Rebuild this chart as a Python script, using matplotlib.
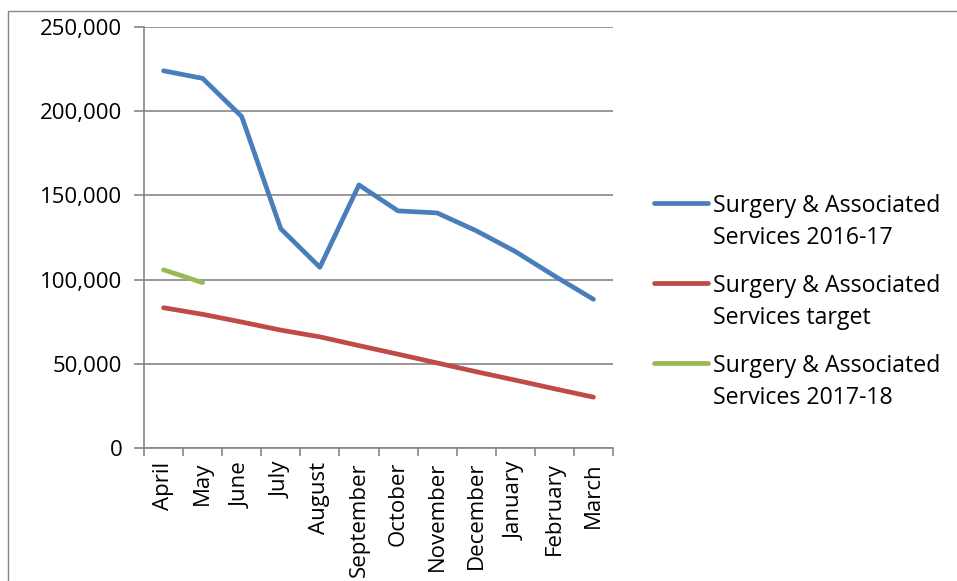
import matplotlib
matplotlib.use("Agg")
import matplotlib.pyplot as plt
from matplotlib.ticker import FuncFormatter, FixedLocator
from matplotlib.patches import Rectangle
from matplotlib.lines import Line2D

months = ["April", "May", "June", "July", "August", "September", "October",
          "November", "December", "January", "February", "March"]
series_2016_17 = [224000, 219500, 196800, 130200, 107300, 156200, 140800,
                  139600, 129000, 116700, 102200, 88300]
series_target = [83300, 79400, 74800, 70000, 66000, 60800, 55700,
                 50500, 45300, 40300, 35200, 30200]
series_2017_18 = [105800, 98200]
labels = ["Surgery & Associated\nServices 2016-17",
          "Surgery & Associated\nServices target",
          "Surgery & Associated\nServices 2017-18"]
colors = ["#4a7ebb", "#be4b48", "#98b954"]

plt.rcParams['font.family'] = ['Open Sans', 'DejaVu Sans']

W, H = 957, 581
fig = plt.figure(figsize=(W / 100, H / 100), dpi=100)
fig.patch.set_facecolor("white")

def fx(px):
    return px / W

def fy(py):
    return 1 - py / H

# outer chart border (cropped)
fig.patches.append(Rectangle((fx(8), -0.1), 1.2, fy(11) + 0.1, transform=fig.transFigure,
                             fill=False, edgecolor="#868686", linewidth=1.0))

ax = fig.add_axes([fx(144), fy(448), 469 / W, 421 / H])
x = list(range(len(months)))
ax.plot(x, series_2016_17, color=colors[0], lw=3.4, solid_capstyle="round")
ax.plot(x, series_target, color=colors[1], lw=3.4, solid_capstyle="round")
ax.plot(x[:len(series_2017_18)], series_2017_18, color=colors[2], lw=3.4,
        solid_capstyle="round")

ax.set_xlim(-0.5, len(months) - 0.5)
ax.set_ylim(0, 250000)
ax.set_yticks(range(0, 250001, 50000))
ax.yaxis.set_major_formatter(FuncFormatter(lambda v, p: f"{int(v):,}"))
ax.grid(axis="y", color="#868686", lw=1.2)
ax.set_axisbelow(True)

ax.xaxis.set_major_locator(FixedLocator([i - 0.5 for i in range(len(months) + 1)]))
ax.xaxis.set_minor_locator(FixedLocator(x))
ax.set_xticklabels([], minor=False)
ax.set_xticklabels(months, minor=True, rotation=90, va="top", ha="center")
ax.tick_params(axis="x", which="major", length=6, color="#868686", width=1.2)
ax.tick_params(axis="x", which="minor", length=0, pad=10, labelsize=16)
ax.tick_params(axis="y", length=7, color="#868686", width=1.2, labelsize=16, pad=8.5)

for s in ["top", "right"]:
    ax.spines[s].set_visible(False)
for s in ["left", "bottom"]:
    ax.spines[s].set_color("#868686")
    ax.spines[s].set_linewidth(1.2)

# legend (Excel style: swatch aligned with first text line)
for i, (lab, col) in enumerate(zip(labels, colors)):
    base = 212 + 80 * i
    fig.add_artist(Line2D([fx(654), fx(708)], [fy(base - 9), fy(base - 9)],
                          transform=fig.transFigure, color=col, lw=3.4,
                          solid_capstyle="round"))
    for j, line in enumerate(lab.split("\n")):
        fig.text(fx(713), fy(base + 32 * j), line, fontsize=16.7, va="baseline",
                 ha="left", color="black")

fig.savefig("out.png", dpi=100)
